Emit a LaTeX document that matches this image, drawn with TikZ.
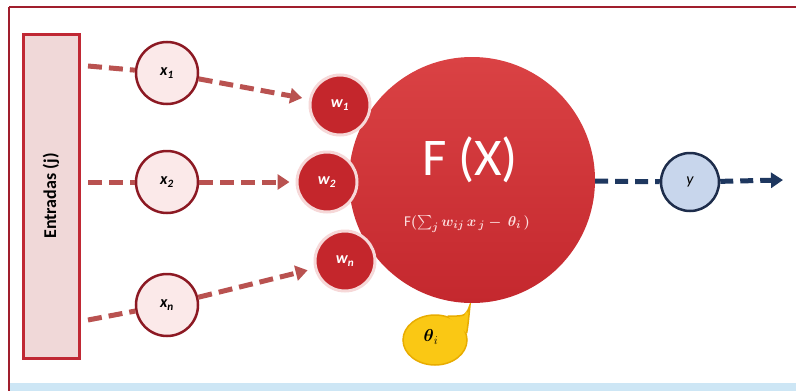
\documentclass[tikz,border=0pt]{standalone}
\usepackage{amsmath}
\usepackage{fontspec}
\setmainfont{Carlito}
\setsansfont{Carlito}
\usetikzlibrary{arrows.meta,shapes.geometric}
\definecolor{framecol}{RGB}{160,30,45}
\definecolor{arrcol}{RGB}{185,82,80}
\definecolor{xfill}{RGB}{251,233,233}
\definecolor{xdraw}{RGB}{140,25,35}
\definecolor{rectfill}{RGB}{240,216,216}
\definecolor{rectdraw}{RGB}{192,40,52}
\definecolor{wfill}{RGB}{196,38,44}
\definecolor{wdraw}{RGB}{246,216,216}
\definecolor{bigtop}{RGB}{218,66,68}
\definecolor{bigbot}{RGB}{196,40,46}
\definecolor{yfill}{RGB}{200,214,236}
\definecolor{ydraw}{RGB}{30,45,75}
\definecolor{navy}{RGB}{30,55,95}
\definecolor{yel}{RGB}{250,200,20}
\definecolor{yeldraw}{RGB}{232,172,0}
\definecolor{band}{RGB}{205,230,245}
\definecolor{formcol}{RGB}{252,222,222}
\tikzset{
  inbox/.style={draw=rectdraw, fill=rectfill, line width=3pt, minimum width=56pt, minimum height=324pt, inner sep=0pt},
  xnode/.style={circle, draw=xdraw, fill=xfill, line width=2.5pt, minimum size=62pt, inner sep=0pt, font=\fontsize{16}{16}\selectfont\bfseries\itshape},
  wnode/.style={circle, draw=wdraw, fill=wfill, line width=3pt, minimum size=60pt, inner sep=0pt, text=white, font=\fontsize{16}{16}\selectfont\bfseries\itshape},
  bignode/.style={circle, top color=bigtop, bottom color=bigbot, minimum size=246pt, inner sep=0pt},
  ynode/.style={circle, draw=ydraw, fill=yfill, line width=2.5pt, minimum size=58pt, inner sep=0pt, font=\fontsize{16}{16}\selectfont\itshape},
  redarrow/.style={draw=arrcol, line width=5pt, dash pattern=on 14pt off 7pt},
  redtip/.style={-{Triangle[length=12pt,width=15pt]}},
  bluearrow/.style={draw=navy, line width=5pt, dash pattern=on 13pt off 7pt},
  thetanode/.style={ellipse, fill=yel, draw=yeldraw, line width=1.5pt, minimum width=64pt, minimum height=50pt, inner sep=0pt}
}
\begin{document}
\begin{tikzpicture}[x=1pt,y=-1pt]
\useasboundingbox (0,0) rectangle (796,391);
% frame and band
\fill[band] (10,383) rectangle (800,395);
\draw[framecol, line width=1.5pt] (9,7) -- (800,7);
\draw[framecol, line width=1.5pt] (9,7) -- (9,395);
% input box
\node[inbox] (ent) at (51,196) {};
\node[rotate=90, font=\fontsize{18}{18}\selectfont\bfseries] (entlab) at (ent.center) {Entradas (j)};
% theta callout (behind big circle)
\node[thetanode] (theta) at (435,340) {};
\coordinate (ttip) at (470,305);
\filldraw[fill=yel, draw=yeldraw, line width=1.5pt] (theta.12) .. controls (468,325) .. (ttip) .. controls (466,316) .. (theta.62);
\fill[yel] (theta.center) ellipse (30pt and 23pt);
\fill[yel] (460,325) -- (467,310) -- (466,330) -- cycle;
\node[font=\fontsize{18}{18}\selectfont] (thetalab) at (431,337) {$\boldsymbol{\theta}_{\scriptstyle i}$};
% big neuron
\node[bignode] (F) at (472,180) {};
\node[text=white, font=\fontsize{53}{53}\selectfont] (Flab) at (470,160) {F (X)};
\node[text=formcol, font=\fontsize{15}{15}\selectfont\boldmath] (form) at (467,224) {F$(\sum_{j} w_{ij}\,x_{\,j} - \,\theta_{i}\,)$};
% inputs
\node[xnode] (x1) at (167,73) {x\textsubscript{1}};
\node[xnode] (x2) at (167,182) {x\textsubscript{2}};
\node[xnode] (xn) at (167,305) {x\textsubscript{n}};
% weights
\node[wnode] (w1) at (340,105) {w\textsubscript{1}};
\node[wnode] (w2) at (327,182) {w\textsubscript{2}};
\node[wnode] (wn) at (345,261) {w\textsubscript{n}};
% output
\node[ynode] (y) at (690,182) {y};
\coordinate (e1) at (88,66);
\coordinate (e2) at (88,182);
\coordinate (en) at (88,320);
\coordinate (out) at (783,180);
% connectors
\draw[redarrow] (e1) -- (x1);
\draw[redarrow] (e2) -- (x2);
\draw[redarrow] (en) -- (xn);
\draw[redarrow, redtip, shorten >=7pt] (x1) -- (w1);
\draw[redarrow, redtip, shorten >=6pt] (x2) -- (w2);
\draw[redarrow, redtip, shorten >=7pt] (xn) -- (wn);
\draw[bluearrow] (F) -- (y);
\draw[bluearrow, -{Triangle[length=12pt,width=15pt]}] (y) -- (out);
\end{tikzpicture}
\end{document}
